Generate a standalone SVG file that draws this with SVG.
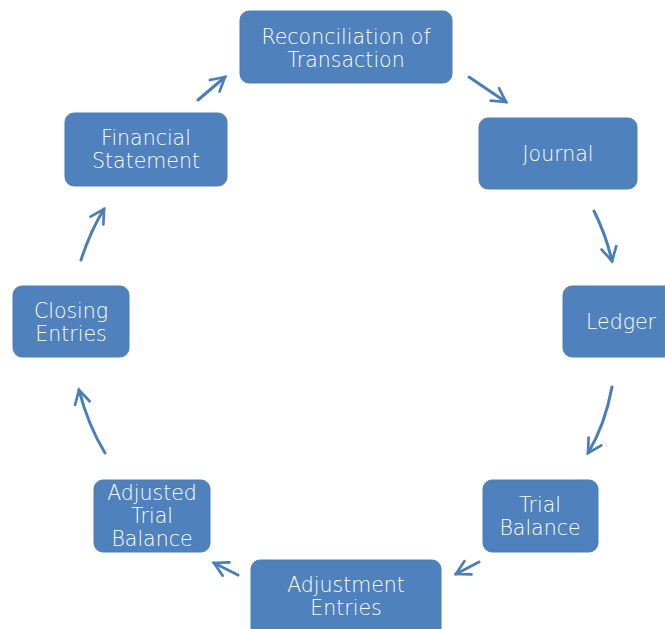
<svg xmlns="http://www.w3.org/2000/svg" width="665" height="629" viewBox="0 0 665 629">
<style>
.n rect{fill:#4F81BD;stroke:#4A7EBB;stroke-width:1}
.n text{fill:#fff;font-family:"DejaVu Sans","Liberation Sans",sans-serif;font-size:20.5px;font-weight:300;text-anchor:middle}
.c path{fill:none;stroke:#4A7EBB;stroke-width:3;stroke-linecap:round;marker-end:url(#ah)}
</style>
<defs>
<marker id="ah" viewBox="0 0 12 12" refX="10" refY="6" markerWidth="6" markerHeight="6" orient="auto" markerUnits="strokeWidth">
<path d="M1,1 L10,6 L1,11" fill="none" stroke="#4A7EBB" stroke-width="1.8" stroke-linecap="round" stroke-linejoin="miter"/>
</marker>
</defs>
<rect width="665" height="629" fill="#fff"/>
<g class="c">
<path d="M198,100 L225,77"/>
<path d="M469,77 L506,102"/>
<path d="M594,211 Q606,235 612,261"/>
<path d="M612,387 Q605,425 588,453"/>
<path d="M479,562 L456,574"/>
<path d="M238,575 L214,563"/>
<path d="M105,453 Q88,425 79,390"/>
<path d="M81,260 Q90,232 104,209"/>
</g>
<g id="n1" class="n"><rect x="240" y="11" width="212" height="72" rx="9"/><text x="346" y="44">Reconciliation of</text><text x="346" y="67">Transaction</text></g>
<g id="n2" class="n"><rect x="479" y="118" width="158" height="71" rx="9"/><text x="558" y="161">Journal</text></g>
<g id="n3" class="n"><rect x="563" y="286" width="112" height="71" rx="9"/><text x="621" y="329">Ledger</text></g>
<g id="n4" class="n"><rect x="483" y="480" width="115" height="72" rx="9"/><text x="540" y="512">Trial</text><text x="540" y="535">Balance</text></g>
<g id="n5" class="n"><rect x="251" y="560" width="190" height="80" rx="9"/><text x="346" y="592">Adjustment</text><text x="346" y="615">Entries</text></g>
<g id="n6" class="n"><rect x="94" y="480" width="116" height="72" rx="9"/><text x="152" y="500">Adjusted</text><text x="152" y="523">Trial</text><text x="152" y="546">Balance</text></g>
<g id="n7" class="n"><rect x="13" y="286" width="116" height="71" rx="9"/><text x="71" y="318">Closing</text><text x="71" y="341">Entries</text></g>
<g id="n8" class="n"><rect x="65" y="113" width="162" height="73" rx="9"/><text x="146" y="145">Financial</text><text x="146" y="168">Statement</text></g>
</svg>
